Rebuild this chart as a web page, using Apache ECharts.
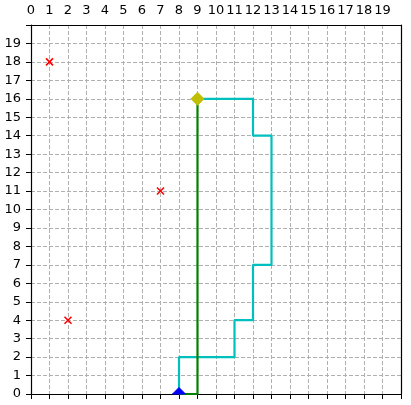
<!DOCTYPE html>
<html>
<head>
<meta charset="utf-8">
<script src="https://cdn.jsdelivr.net/npm/echarts@6/dist/echarts.min.js"></script>
<style>
  html, body { margin: 0; padding: 0; background: #fff; }
  #chart { width: 411px; height: 405px; }
</style>
</head>
<body>
<div id="chart"></div>
<script>
// tick labels (0..19 shown, nothing at 20)
const xLabels = ['0','1','2','3','4','5','6','7','8','9','10','11','12','13','14','15','16','17','18','19'];
const yLabels = ['0','1','2','3','4','5','6','7','8','9','10','11','12','13','14','15','16','17','18','19'];

// obstacles / points
const crosses = [[1, 18], [7, 11], [2, 4]];
const startPoint = [[8, 0]];
const goalPoint = [[9, 16]];

// paths
const greenPath = [[8, 0], [9, 0], [9, 16]];
const cyanPath = [[8, 0], [8, 2], [11, 2], [11, 4], [12, 4], [12, 7], [13, 7], [13, 14], [12, 14], [12, 16], [9, 16]];

const font = 'DejaVu Sans';
const gridDash = { color: '#b0b0b0', width: 1, type: [4, 2] };

// diamond with its vertices clamped to the plot rect (matplotlib clips half of it)
function diamond(color, size) {
  return function (params, api) {
    const c = api.coord([api.value(0), api.value(1)]);
    const r = size / 2;
    let pts = [[c[0] - r, c[1]], [c[0], c[1] - r], [c[0] + r, c[1]], [c[0], c[1] + r]];
    pts = echarts.graphic.clipPointsByRect(pts, params.coordSys);
    return {
      type: 'polygon',
      shape: { points: pts },
      style: { fill: color, stroke: color, lineWidth: 1 }
    };
  };
}

function cross(params, api) {
  const c = api.coord([api.value(0), api.value(1)]);
  const r = 3.5;
  const st = { stroke: '#ff0000', lineWidth: 1.6 };
  return {
    type: 'group',
    children: [
      { type: 'line', shape: { x1: c[0] - r, y1: c[1] - r, x2: c[0] + r, y2: c[1] + r }, style: st },
      { type: 'line', shape: { x1: c[0] - r, y1: c[1] + r, x2: c[0] + r, y2: c[1] - r }, style: st }
    ]
  };
}

const option = {
  animation: false,
  grid: { left: 31, right: 10, top: 25, bottom: 11 },
  xAxis: [
    {
      type: 'value', position: 'bottom', min: 0, max: 20, interval: 1,
      axisLine: { show: true, lineStyle: { color: '#000', width: 1.2 } },
      axisTick: { show: true, length: 5, lineStyle: { color: '#000' } },
      axisLabel: { show: false },
      splitLine: { show: true, lineStyle: gridDash }
    },
    {
      type: 'value', position: 'top', min: 0, max: 20, interval: 1,
      axisLine: { show: true, onZero: false, lineStyle: { color: '#000', width: 1.2 } },
      axisTick: { show: false },
      axisLabel: {
        show: true, margin: 8, color: '#000', fontFamily: font, fontSize: 13,
        formatter: v => xLabels[v] !== undefined ? xLabels[v] : ''
      },
      splitLine: { show: false }
    }
  ],
  yAxis: [
    {
      type: 'value', position: 'left', min: 0, max: 20, interval: 1,
      axisLine: { show: true, lineStyle: { color: '#000', width: 1.2 } },
      axisTick: { show: true, length: 5, lineStyle: { color: '#000' } },
      axisLabel: {
        show: true, margin: 10, color: '#000', fontFamily: font, fontSize: 13,
        formatter: v => yLabels[v] !== undefined ? yLabels[v] : ''
      },
      splitLine: { show: true, lineStyle: gridDash }
    },
    {
      type: 'value', position: 'right', min: 0, max: 20, interval: 1,
      axisLine: { show: true, onZero: false, lineStyle: { color: '#000', width: 1.2 } },
      axisTick: { show: false },
      axisLabel: { show: false },
      splitLine: { show: false }
    }
  ],
  series: [
    {
      type: 'line', data: cyanPath, showSymbol: false, z: 3,
      lineStyle: { color: '#00bfbf', width: 2.2 }
    },
    {
      type: 'line', data: greenPath, showSymbol: false, z: 4,
      lineStyle: { color: '#008000', width: 2.2 }
    },
    { type: 'custom', data: crosses, renderItem: cross, z: 5 },
    { type: 'custom', data: goalPoint, renderItem: diamond('#bfbf00', 13), z: 6 },
    { type: 'custom', data: startPoint, renderItem: diamond('#0000ff', 13), z: 6 }
  ]
};

const myChart = echarts.init(document.getElementById('chart'));
myChart.setOption(option);
</script>
</body>
</html>
